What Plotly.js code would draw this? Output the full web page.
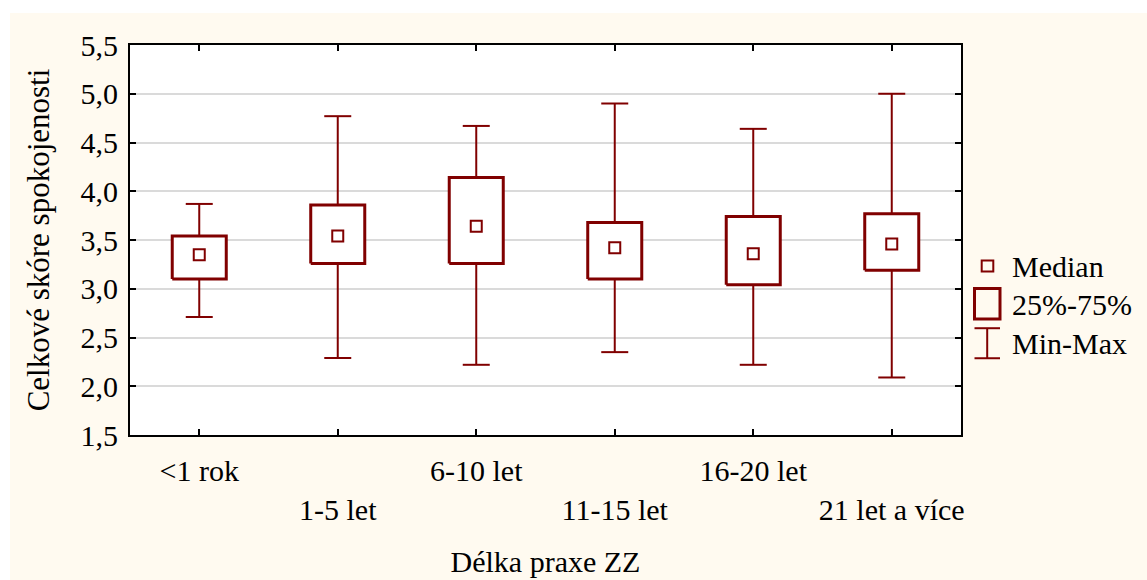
<!DOCTYPE html>
<html>
<head>
<meta charset="utf-8">
<script src="https://cdn.plot.ly/plotly-3.0.1.min.js"></script>
<style>
  html, body { margin: 0; padding: 0; background: #ffffff; }
  #chart { position: absolute; left: 10px; top: 13px; width: 1137px; height: 567px; }
</style>
</head>
<body>
<div id="chart"></div>
<script>
// ---- data ----
const categories = ["<1 rok", "1-5 let", "6-10 let", "11-15 let", "16-20 let", "21 let a více"];
const minVals    = [2.71, 2.29, 2.22, 2.35, 2.22, 2.09];
const q1Vals     = [3.10, 3.26, 3.26, 3.10, 3.04, 3.19];
const medianVals = [3.35, 3.54, 3.64, 3.42, 3.36, 3.46];
const q3Vals     = [3.54, 3.86, 4.14, 3.68, 3.74, 3.77];
const maxVals    = [3.87, 4.77, 4.67, 4.90, 4.64, 5.00];
const legendLabels = ["Median", "25%-75%", "Min-Max"];
const yTickVals = [1.5, 2.0, 2.5, 3.0, 3.5, 4.0, 4.5, 5.0, 5.5];

// ---- styling ----
const RED = "#800000";
const FONT = "Liberation Serif, Times New Roman, serif";
const BOX_HALF = 0.195;
const CAP_HALF = 0.0975;

const xs = categories.map((c, i) => i);

// whiskers + caps
const wx = [], wy = [];
xs.forEach((x, i) => {
  wx.push(x, x, null, x, x, null, x - CAP_HALF, x + CAP_HALF, null, x - CAP_HALF, x + CAP_HALF, null);
  wy.push(minVals[i], q1Vals[i], null, q3Vals[i], maxVals[i], null, maxVals[i], maxVals[i], null, minVals[i], minVals[i], null);
});

// boxes
const bx = [], by = [];
xs.forEach((x, i) => {
  bx.push(x - BOX_HALF, x + BOX_HALF, x + BOX_HALF, x - BOX_HALF, x - BOX_HALF, null);
  by.push(q1Vals[i], q1Vals[i], q3Vals[i], q3Vals[i], q1Vals[i], null);
});

const traces = [
  { type: "scatter", mode: "lines", x: wx, y: wy, name: legendLabels[2], showlegend: false,
    line: { color: RED, width: 2 }, hoverinfo: "skip" },
  { type: "scatter", mode: "lines", x: bx, y: by, name: legendLabels[1], showlegend: false,
    fill: "toself", fillcolor: "#ffffff", line: { color: RED, width: 3 }, hoverinfo: "skip" },
  { type: "scatter", mode: "markers", x: xs, y: medianVals, name: legendLabels[0], showlegend: false,
    marker: { symbol: "square-open", size: 11, color: RED, line: { color: RED, width: 2 } } }
];

// custom legend (positions in image pixels -> paper coords)
const PL = 130, PR = 961, PT = 45.3, PB = 435;
const px = v => (v - PL) / (PR - PL);
const py = v => (PB - v) / (PB - PT);

const shapes = [
  { type: "rect", xref: "paper", yref: "paper", x0: px(981.7), x1: px(993.3), y0: py(271.7), y1: py(260.7),
    line: { color: RED, width: 2 }, fillcolor: "rgba(0,0,0,0)" },
  { type: "rect", xref: "paper", yref: "paper", x0: px(974.5), x1: px(1000), y0: py(319), y1: py(288.5),
    line: { color: RED, width: 3 }, fillcolor: "rgba(0,0,0,0)" },
  { type: "line", xref: "paper", yref: "paper", x0: px(987.2), x1: px(987.2), y0: py(358.3), y1: py(328.3),
    line: { color: RED, width: 2 } },
  { type: "line", xref: "paper", yref: "paper", x0: px(974.5), x1: px(1000), y0: py(328.3), y1: py(328.3),
    line: { color: RED, width: 2 } },
  { type: "line", xref: "paper", yref: "paper", x0: px(974.5), x1: px(1000), y0: py(358.3), y1: py(358.3),
    line: { color: RED, width: 2 } }
];

const legendY = [267, 305, 344];
const annotations = legendLabels.map((t, i) => ({
  xref: "paper", yref: "paper", x: px(1010), y: py(legendY[i]), xanchor: "left", yanchor: "middle",
  text: t, showarrow: false, font: { family: FONT, size: 30, color: "#000000" }
}));

const tickText = categories.map((c, i) => {
  const s = c.replace(/</g, "&lt;");
  return i % 2 === 1 ? "<br>" + s : s;
});

const layout = {
  width: 1137, height: 567,
  margin: { l: 120, r: 186, t: 32, b: 145, pad: 0 },
  paper_bgcolor: "#fffaf0",
  plot_bgcolor: "#ffffff",
  separators: ", ",
  showlegend: false,
  font: { family: FONT, size: 30, color: "#000000" },
  xaxis: {
    range: [-0.5, 5.5], tickmode: "array", tickvals: xs, ticktext: tickText,
    ticks: "inside", ticklen: 6, tickwidth: 2, tickcolor: "#000000",
    showline: true, linecolor: "#000000", linewidth: 2, mirror: "ticks",
    showgrid: false, zeroline: false, automargin: false,
    tickangle: 0, ticklabelstandoff: 8,
    tickfont: { family: FONT, size: 30, color: "#000000" },
    title: { text: "Délka praxe ZZ", font: { family: FONT, size: 30, color: "#000000" }, standoff: 26 }
  },
  yaxis: {
    range: [1.5, 5.5], tickmode: "array", tickvals: yTickVals,
    tickformat: ".1f",
    ticks: "inside", ticklen: 6, tickwidth: 2, tickcolor: "#000000",
    showline: true, linecolor: "#000000", linewidth: 2, mirror: "ticks",
    showgrid: true, gridcolor: "#dadada", gridwidth: 2, zeroline: false, automargin: false,
    ticklabelstandoff: 4,
    tickfont: { family: FONT, size: 30, color: "#000000" },
    title: { text: "Celkové skóre spokojenosti", font: { family: FONT, size: 31, color: "#000000" }, standoff: 22 }
  },
  shapes: shapes,
  annotations: annotations
};

Plotly.newPlot("chart", traces, layout, { displayModeBar: false, staticPlot: true });
</script>
</body>
</html>
